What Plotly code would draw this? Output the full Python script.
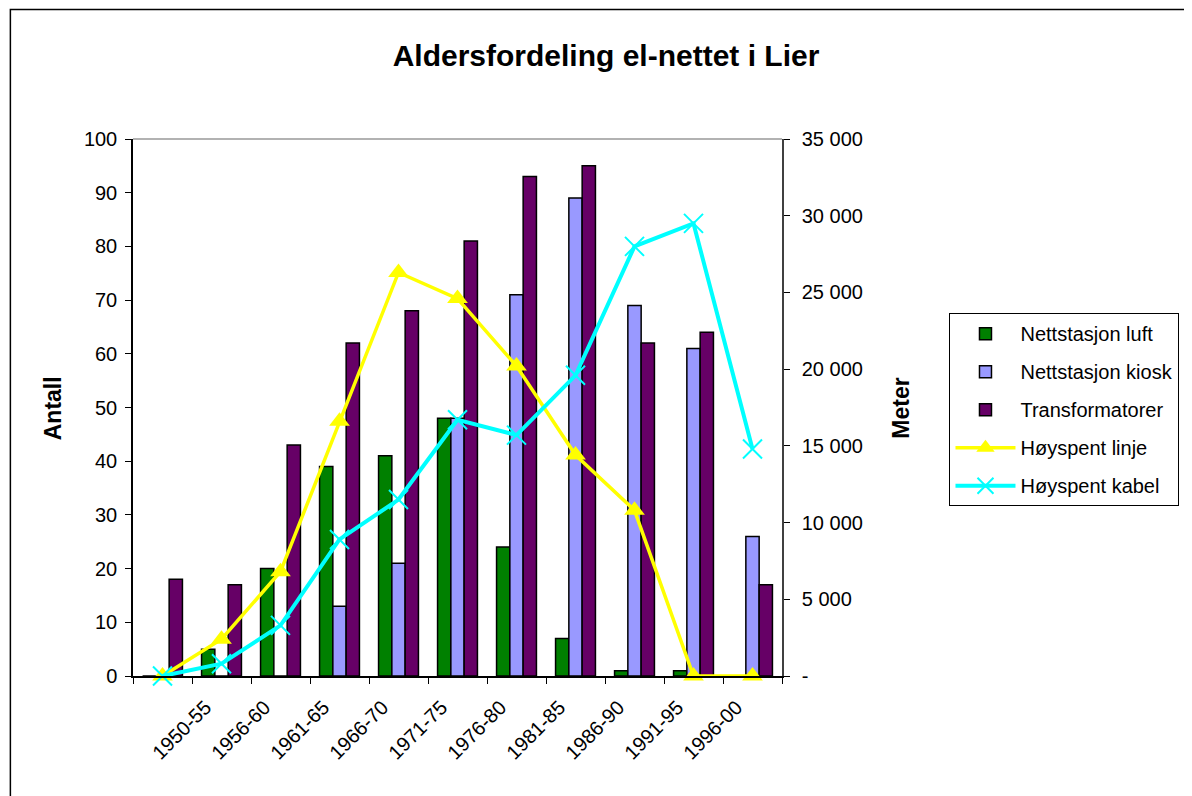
import plotly.graph_objects as go

# categories (the first group has no label in the original)
CATEGORIES = ["", "1950-55", "1956-60", "1961-65", "1966-70", "1971-75",
              "1976-80", "1981-85", "1986-90", "1991-95", "1996-00"]

# counts (left axis)
NETTSTASJON_LUFT = [0, 5, 20, 39, 41, 48, 24, 7, 1, 1, 0]
NETTSTASJON_KIOSK = [0, 0, 0, 13, 21, 48, 71, 89, 69, 61, 26]
TRANSFORMATORER = [18, 17, 43, 62, 68, 81, 93, 95, 62, 64, 17]

# metres (right axis)
HOYSPENT_LINJE = [0, 2400, 6800, 16600, 26300, 24600, 20200, 14400, 10800, 0, 0]
HOYSPENT_KABEL = [0, 800, 3300, 8900, 11500, 16700, 15700, 19600, 28000, 29500, 14800]

METER_TICKS = [0, 5000, 10000, 15000, 20000, 25000, 30000, 35000]
METER_TICKTEXT = ["-", "5 000", "10 000", "15 000", "20 000", "25 000", "30 000", "35 000"]

FONT = "Liberation Sans, Arial, sans-serif"

x = list(range(len(CATEGORIES)))

fig = go.Figure()

bar_specs = [
    ("Nettstasjon luft", NETTSTASJON_LUFT, "#008000"),
    ("Nettstasjon kiosk", NETTSTASJON_KIOSK, "#9999FF"),
    ("Transformatorer", TRANSFORMATORER, "#660066"),
]
for name, values, color in bar_specs:
    fig.add_trace(go.Bar(
        x=x, y=values, name=name, legendgroup=name,
        marker=dict(color=color, line=dict(color="black", width=1.5)),
    ))

fig.add_trace(go.Scatter(
    x=x, y=HOYSPENT_LINJE, name="Høyspent linje", legendgroup="linje",
    yaxis="y2", mode="lines+markers", cliponaxis=False,
    line=dict(color="#FFFF00", width=3.5),
    marker=dict(symbol="triangle-up", size=18, color="#FFFF00"),
))
fig.add_trace(go.Scatter(
    x=x, y=HOYSPENT_KABEL, name="Høyspent kabel", legendgroup="kabel",
    yaxis="y2", mode="lines+markers", cliponaxis=False,
    line=dict(color="#00FFFF", width=4),
    marker=dict(symbol="x-thin", size=19, color="#00FFFF",
                line=dict(color="#00FFFF", width=2)),
))

# page body adds 8px, so figure coords = picture coords - 8
FIG_W, FIG_H = 1184, 788
L, R, T, B = 125, 776, 130.5, 668.5
W, H = R - L, B - T


def px_x(p):
    return (p - L) / W


def px_y(p):
    return (B - p) / H


fig.update_layout(
    width=FIG_W, height=FIG_H,
    margin=dict(l=L, r=FIG_W - R, t=T, b=FIG_H - B, pad=0),
    paper_bgcolor="white", plot_bgcolor="white",
    font=dict(family=FONT, size=20, color="black"),
    barmode="group", bargap=0.324, bargroupgap=0,
    title=dict(text="<b>Aldersfordeling el-nettet i Lier</b>",
               x=598 / FIG_W, xanchor="center", y=1 - 47 / FIG_H, yanchor="middle",
               font=dict(family=FONT, size=30, color="black")),
    xaxis=dict(
        range=[-0.5, len(CATEGORIES) - 0.5],
        tickmode="array", tickvals=x, ticktext=CATEGORIES,
        tickangle=-45, ticks="outside", ticklen=0,
        ticklabelshift=-16, ticklabelstandoff=10,
        showline=True, linecolor="black", linewidth=1.5,
        showgrid=False, zeroline=False,
        minor=dict(tickmode="array",
                   tickvals=[i - 0.5 for i in range(len(CATEGORIES) + 1)],
                   ticks="outside", ticklen=6, tickcolor="black", tickwidth=1,
                   showgrid=False),
        tickfont=dict(family=FONT, size=20),
    ),
    yaxis=dict(
        range=[0, 100], dtick=10, tick0=0,
        ticks="outside", ticklen=6, tickcolor="black", ticklabelstandoff=4,
        showline=True, linecolor="black", linewidth=1.5,
        showgrid=False, zeroline=False,
        tickfont=dict(family=FONT, size=20),
    ),
    yaxis2=dict(
        range=[0, 35000], overlaying="y", side="right",
        tickmode="array", tickvals=METER_TICKS, ticktext=METER_TICKTEXT,
        ticks="outside", ticklen=6, tickcolor="black", ticklabelstandoff=8,
        showline=True, linecolor="#404040", linewidth=1.5,
        showgrid=False, zeroline=False,
        tickfont=dict(family=FONT, size=20),
    ),
    legend=dict(
        x=px_x(944), y=px_y(305), xanchor="left", yanchor="top",
        bordercolor="black", borderwidth=1, bgcolor="white",
        font=dict(family=FONT, size=20, color="black"),
        traceorder="grouped", tracegroupgap=9, itemwidth=60,
    ),
    showlegend=True,
)

# axis titles
fig.add_annotation(text="<b>Antall</b>", xref="paper", yref="paper",
                   x=px_x(45), y=px_y(400), xanchor="center", yanchor="middle",
                   textangle=-90, showarrow=False,
                   font=dict(family=FONT, size=23, color="black"))
fig.add_annotation(text="<b>Meter</b>", xref="paper", yref="paper",
                   x=px_x(895), y=px_y(400), xanchor="center", yanchor="middle",
                   textangle=-90, showarrow=False,
                   font=dict(family=FONT, size=23, color="black"))

# top border of plot area, and the outer chart frame
fig.add_shape(type="line", xref="paper", yref="paper", x0=0, x1=1, y0=1, y1=1,
              line=dict(color="#999999", width=1.5))
fig.add_shape(type="rect", xref="paper", yref="paper",
              x0=px_x(2), x1=px_x(1300), y0=px_y(900), y1=px_y(0.75),
              line=dict(color="black", width=1.5), layer="below")

fig.write_html("out.html")
